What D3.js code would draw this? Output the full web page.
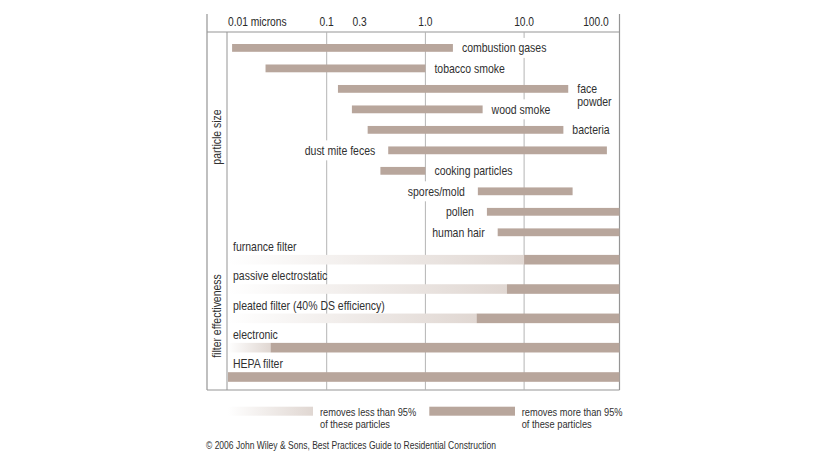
<!DOCTYPE html>
<html><head><meta charset="utf-8">
<script src="https://cdn.jsdelivr.net/npm/d3@7"></script>
<style>
body{margin:0;background:#fff;}
svg text{font-family:"Liberation Sans Narrow","Arial Narrow","Liberation Sans",Arial,sans-serif;fill:#303030;}
</style></head><body>
<svg id="c" width="829" height="466"></svg>
<script>
// ---- data ----
const particles = ["combustion gases","tobacco smoke","face powder","wood smoke","bacteria","dust mite feces","cooking particles","spores/mold","pollen","human hair"];
const particleMin = [0.011,0.024,0.13,0.18,0.26,0.42,0.35,3.4,4.2,5.4];
const particleMax = [1.9,1.0,28,3.8,25,69,1.0,31,100,100];
const labelSide = ["right","right","right","right","right","left","right","left","left","left"];
const filters = ["furnance filter","passive electrostatic","pleated filter (40% DS efficiency)","electronic","HEPA filter"];
const filterThreshold = [10,6.7,3.3,0.027,0.01];
const tickValues = [0.01,0.1,0.3,1,10,100];
const tickLabels = ["0.01 microns","0.1","0.3","1.0","10.0","100.0"];
const gridValues = [0.1,1,10];
const sections = ["particle size","filter effectiveness"];
const legendLabels = [["removes less than 95%","of these particles"],["removes more than 95%","of these particles"]];
const credit = "\u00A9 2006 John Wiley & Sons, Best Practices Guide to Residential Construction";

// ---- layout ----
const svg = d3.select("#c");
const K = 0.82; // narrow font emulation
const frameL = 207, frameR = 619.5, frameT = 14, headerB = 32, frameB = 390;
const x = d3.scaleLog().domain([0.01,100]).range([228,622.8]);
const yP = d3.scalePoint().domain(particles).range([47.9,232.3]);
const yF = d3.scalePoint().domain(filters).range([259.7,377]);
const dark = "#b8a69c";
const frameColor = "#959595", gridColor = "#b4b4b4";

function condense(sel){
  sel.each(function(){
    const t = d3.select(this); const x0 = +t.attr("x");
    t.attr("transform",`translate(${x0*(1-K)},0) scale(${K},1)`);
  });
  return sel;
}

const defs = svg.append("defs");
const grad = defs.append("linearGradient").attr("id","fade");
grad.append("stop").attr("offset","0%").attr("stop-color","#ffffff");
grad.append("stop").attr("offset","100%").attr("stop-color","#e0d7d2");
defs.append("clipPath").attr("id","clip").append("rect")
  .attr("x",frameL).attr("y",headerB).attr("width",frameR-frameL).attr("height",frameB-headerB);

// frame
const g = svg.append("g");
const fl = (x1,y1,x2,y2,w)=>g.append("line").attr("x1",x1).attr("y1",y1).attr("x2",x2).attr("y2",y2).attr("stroke",frameColor).attr("stroke-width",w);
fl(frameL,frameT,frameL,frameB,1.2);
fl(frameR,frameT,frameR,frameB,1.2);
fl(frameL,headerB,frameR,headerB,1.2);
fl(frameL,frameB,frameR,frameB,1.2);
fl(x(0.01)-1,headerB,x(0.01)-1,frameB,1);

// grid
g.selectAll("line.grid").data(gridValues).join("line").attr("class","grid")
  .attr("x1",d=>x(d)).attr("x2",d=>x(d)).attr("y1",headerB).attr("y2",frameB)
  .attr("stroke",gridColor).attr("stroke-width",1);

// header ticks
const anchors = {0.01:"start",100:"end",0.3:"end"};
const dxs = {0.01:0,100:-14,0.3:-7};
condense(g.selectAll("text.tick").data(tickValues).join("text").attr("class","tick")
  .attr("x",d=>x(d)+(dxs[d]||0)).attr("y",26)
  .attr("text-anchor",d=>anchors[d]||"middle")
  .attr("font-size",12.5).style("fill","#2a2a2a")
  .text((d,i)=>tickLabels[i]));

// section labels
const secY = [137, 316];
g.selectAll("text.sec").data(sections).join("text").attr("class","sec")
  .attr("transform",(d,i)=>`translate(221,${secY[i]}) rotate(-90) scale(${K},1)`)
  .attr("text-anchor","middle").attr("font-size",12.8).text(d=>d);

// particle labels with white backgrounds
const lblG = g.append("g");
particles.forEach((p,i)=>{
  const side = labelSide[i];
  const lx = side==="right" ? x(particleMax[i])+9 : x(particleMin[i])-13;
  const cy = yP(p);
  const t = lblG.append("text").attr("x",lx).attr("y",cy+4.4)
    .attr("text-anchor",side==="right"?"start":"end").attr("font-size",12.8).text(p);
  condense(t);
  let w = t.node().getBBox().width*K;
  let h = 20;
  if (side==="right" && lx+w > frameR-2) {
    t.text(null);
    p.split(" ").forEach((s,k)=>t.append("tspan").attr("x",lx).attr("dy",k?13:0).text(s));
    w = t.node().getBBox().width*K; h = 33;
  }
  const rx = side==="right" ? lx : lx-w;
  lblG.insert("rect","text").attr("x",rx-3).attr("y",cy-10).attr("width",w+6).attr("height",h).attr("fill","#fff");
});

// particle bars
g.append("g").attr("clip-path","url(#clip)").selectAll("rect").data(particles).join("rect")
  .attr("x",(d,i)=>x(particleMin[i])).attr("width",(d,i)=>x(particleMax[i])-x(particleMin[i]))
  .attr("y",d=>yP(d)-3.9).attr("height",7.8).attr("fill",dark);

// filters
const fG = g.append("g").attr("clip-path","url(#clip)");
filters.forEach((f,i)=>{
  const cy = yF(f);
  const x0 = x(0.01), xt = x(filterThreshold[i]);
  if (xt > x0) fG.append("rect").attr("x",x0).attr("width",xt-x0).attr("y",cy-4.8).attr("height",9.6).attr("fill","url(#fade)");
  fG.append("rect").attr("x",xt).attr("width",x(100)-xt).attr("y",cy-4.8).attr("height",9.6).attr("fill",dark);
  condense(g.append("text").attr("x",x(0.01)+5).attr("y",cy-13+4.4).attr("font-size",12.8).text(f));
});

// legend
const ly = 406.7, lh = 9;
g.append("rect").attr("x",228).attr("y",ly).attr("width",85).attr("height",lh).attr("fill","url(#fade)");
g.append("rect").attr("x",429.3).attr("y",ly).attr("width",85.7).attr("height",lh).attr("fill",dark);
[320,521.7].forEach((lx,i)=>{
  const t = g.append("text").attr("x",lx).attr("y",415.6).attr("font-size",11.3);
  legendLabels[i].forEach((s,k)=>t.append("tspan").attr("x",lx).attr("dy",k?12.4:0).text(s));
  condense(t);
});

// credit
condense(g.append("text").attr("x",206).attr("y",449.5).attr("font-size",10.4).text(credit));
</script>
</body></html>
